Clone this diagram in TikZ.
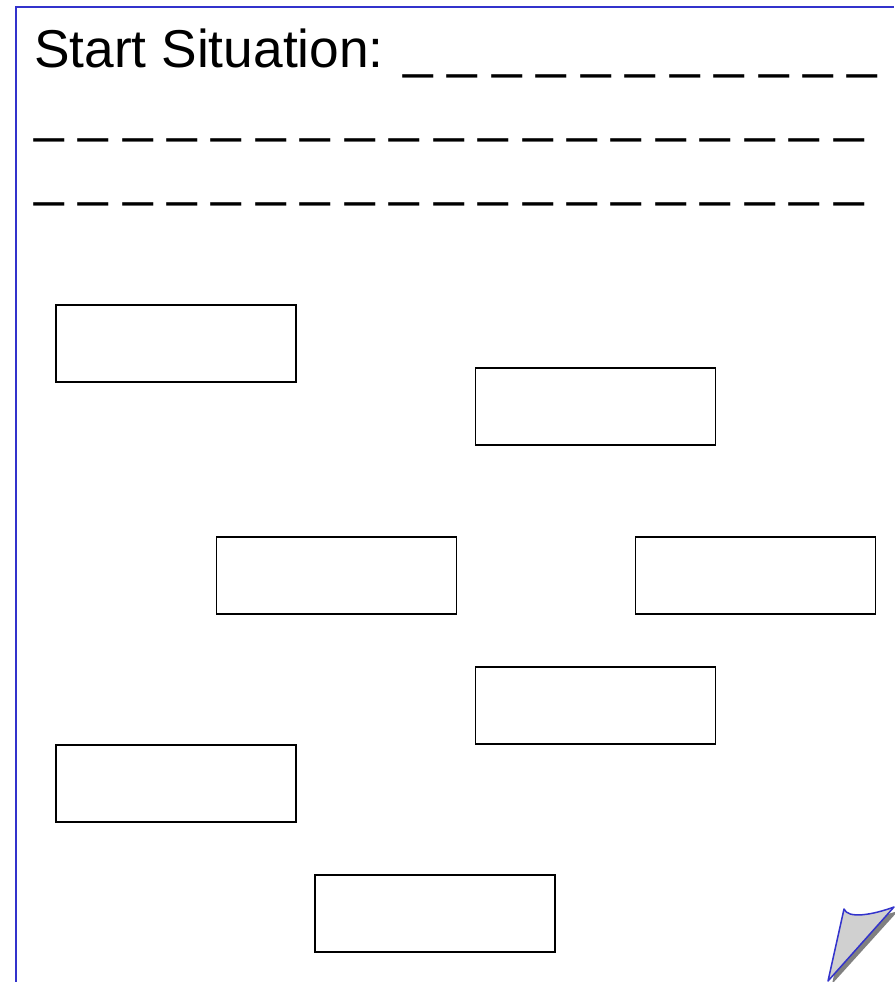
\documentclass[tikz,border=0pt]{standalone}
\usepackage{fontspec}
\setmainfont{Liberation Sans}
\usepackage{tikz}

\definecolor{pageblue}{RGB}{51,51,204}
\definecolor{curlgray}{RGB}{208,208,208}
\definecolor{shadowgray}{RGB}{128,128,128}

\begin{document}
\begin{tikzpicture}[
		x=1pt, y=-1pt,
		every node/.style={font=\fontsize{53.3}{64}\selectfont},
		answerbox/.style={draw, line width=1.5pt, minimum width=240pt, minimum height=77pt, inner sep=0pt},
		line cap=butt,
		line join=miter
		]
		\useasboundingbox (0,0) rectangle (894,982);
		
		% Page edges
		\draw[pageblue, line width=2pt] (16,982) -- (16,7.5) -- (894,7.5);
		
		% Heading with blank lines
		\node[anchor=base west, inner sep=0pt] (title) at (34,67) {Start Situation: \_ \_ \_ \_ \_ \_ \_ \_ \_ \_ \_};
		\node[anchor=base west, inner sep=0pt] (blank1) at (34,131) {\_ \_ \_ \_ \_ \_ \_ \_ \_ \_ \_ \_ \_ \_ \_ \_ \_ \_ \_};
		\node[anchor=base west, inner sep=0pt] (blank2) at (34,195) {\_ \_ \_ \_ \_ \_ \_ \_ \_ \_ \_ \_ \_ \_ \_ \_ \_ \_ \_};
		
		% Empty boxes
		\node[answerbox] (box1) at (176,343.5) {};
		\node[answerbox] (box2) at (595.5,406.5) {};
		\node[answerbox] (box3) at (336.5,575.5) {};
		\node[answerbox] (box4) at (755.5,575.5) {};
		\node[answerbox] (box5) at (595.5,705.5) {};
		\node[answerbox] (box6) at (176,783.5) {};
		\node[answerbox] (box7) at (435,913.5) {};
		
		% Curled corner
		\fill[shadowgray] (832,984) -- (848,912) .. controls (852,922) and (876,918) .. (898,911) -- cycle;
		\filldraw[fill=curlgray, draw=pageblue, line width=1.5pt, line join=round] (828,981) -- (844,909) .. controls (848,919) and (872,915) .. (894,907) -- cycle;
	\end{tikzpicture}
\end{document}
